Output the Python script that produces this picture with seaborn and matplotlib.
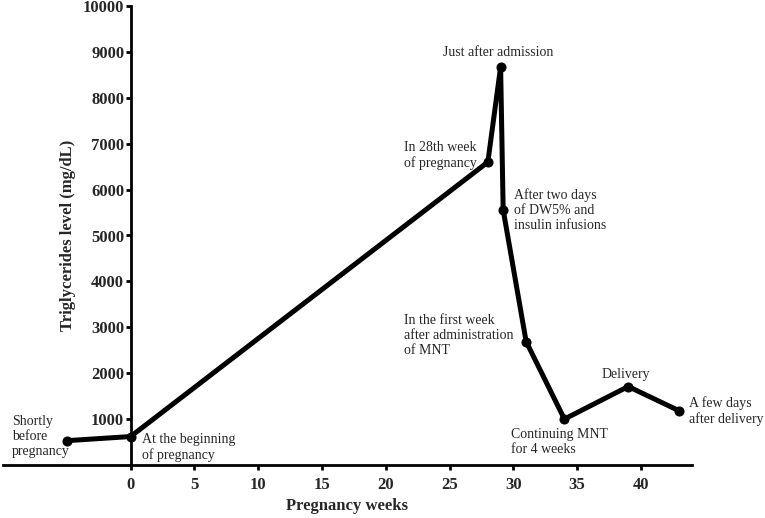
import numpy as np
import pandas as pd
import matplotlib
matplotlib.use("Agg")
import matplotlib.pyplot as plt
import seaborn as sns

# Werte
weeks = [-5, 0, 28, 29, 29.2, 31, 34, 39, 43]
tg_levels = [530, 620, 6600, 8670, 5560, 2690, 1000, 1710, 1180]
labels = [
    "Shortly\nbefore\npregnancy",
    "At the beginning\nof pregnancy",
    "In 28th week\nof pregnancy",
    "Just after admission",
    "After two days\nof DW5% and\ninsulin infusions",
    "In the first week\nafter administration\nof MNT",
    "Continuing MNT\nfor 4 weeks",
    "Delivery",
    "A few days\nafter delivery",
]
x_ticks = [0, 5, 10, 15, 20, 25, 30, 35, 40]
y_ticks = [1000, 2000, 3000, 4000, 5000, 6000, 7000, 8000, 9000, 10000]

# Position der Beschriftungen (Versatz in Pixeln)
label_offsets = [(-55, 4), (11, -11), (-84, 7), (-2, 15), (11, 0),
                 (-122, 6), (-53, -23), (-2, 12), (10, 0)]
label_ha = ["left", "left", "left", "center", "left",
            "left", "left", "center", "left"]

df = pd.DataFrame({"week": weeks, "tg": tg_levels})

sns.set_style("ticks")
plt.rcParams["font.family"] = ["Liberation Serif", "DejaVu Serif"]

fig = plt.figure(figsize=(7.65, 5.18), dpi=100)
ax = fig.add_axes([3 / 765, 53 / 518, 689 / 765, 459 / 518])

sns.lineplot(data=df, x="week", y="tg", sort=False, estimator=None,
             color="black", linewidth=3.6, marker="o", markersize=6.5,
             markeredgecolor="black", ax=ax)

for lab, xv, yv, off, ha in zip(labels, weeks, tg_levels, label_offsets, label_ha):
    ax.annotate(lab, xy=(xv, yv), xytext=off, textcoords="offset pixels",
                ha=ha, va="center", fontsize=10, multialignment=ha)

# Achse zuerst verschieben (setzt die Ticks zurueck)
ax.spines["left"].set_position(("data", 0))
ax.spines["top"].set_visible(False)
ax.spines["right"].set_visible(False)
for s in ["left", "bottom"]:
    ax.spines[s].set_linewidth(2)
    ax.spines[s].set_color("black")

ax.set_xlim(-10, 44)
ax.set_ylim(0, 10000)
ax.set_xticks(x_ticks)
ax.set_yticks(y_ticks)
ax.tick_params(axis="both", direction="out", length=3.6, width=2, color="black",
               labelsize=12)
ax.tick_params(axis="y", pad=1)
ax.tick_params(axis="x", pad=5)
ax.set_xticklabels([str(t) for t in x_ticks], fontweight="bold", fontsize=12)
ax.set_yticklabels([str(t) for t in y_ticks], fontweight="bold", fontsize=12)

ax.set_xlabel("Pregnancy weeks", fontweight="bold", fontsize=12, labelpad=4)
ax.set_ylabel("Triglycerides level (mg/dL)", fontweight="bold", fontsize=12, labelpad=5)

fig.savefig("out.png", dpi=100)
